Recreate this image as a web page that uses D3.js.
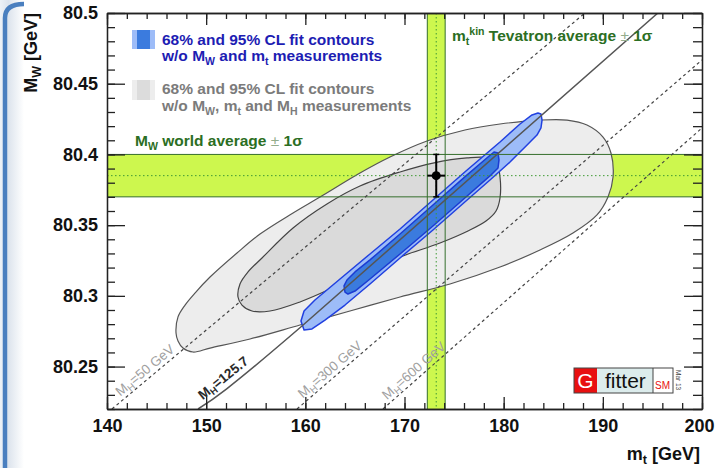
<!DOCTYPE html>
<html>
<head>
<meta charset="utf-8">
<script src="https://cdn.jsdelivr.net/npm/d3@7"></script>
<style>
  html, body { margin: 0; padding: 0; background: #fff; }
  svg { display: block; font-family: "Liberation Sans", Arial, Helvetica, sans-serif; }
</style>
</head>
<body>
<div id="chart"></div>
<script>
(function() {
  'use strict';

  /* ------------------------------------------------------------ *\
      Data
  \* ------------------------------------------------------------ */

  var mtMajorTicks = [140, 150, 160, 170, 180, 190, 200];
  var mtMinorTicks = d3.range(140, 201, 2);
  var mwMajorTicks = [80.25, 80.3, 80.35, 80.4, 80.45, 80.5];
  var mwMinorTicks = d3.range(80.22, 80.5001, 0.01);

  // [central value, 1 sigma]
  var mwWorldAverage = [80.385, 0.015];
  var mtTevatronAverage = [173.2, 0.9];

  // SM lines of constant M_H: [mt, MW] points
  var higgsMasses = ['50 GeV', '125.7', '300 GeV', '600 GeV'];
  var higgsLinePoints = [
    [[140.50, 80.22], [188.20, 80.50]],
    [[149.18, 80.22], [159.66, 80.2787], [195.55, 80.50]],
    [[159.16, 80.22], [200.00, 80.4668]],
    [[167.83, 80.22], [200.00, 80.4187]]
  ];
  var higgsLabelMt = [141.6, 149.9, 160.0, 168.5];

  // fit contours w/o MW, mt and MH
  var gray95 = [
    [146.96, 80.2737], [147.16, 80.2851], [147.87, 80.2935], [148.87, 80.3020],
    [150.39, 80.3133], [153.11, 80.3303], [155.43, 80.3437], [158.76, 80.3586],
    [161.48, 80.3699], [165.51, 80.3869], [168.54, 80.3982], [172.27, 80.4095],
    [176.10, 80.4173], [179.63, 80.4215], [183.66, 80.4243], [186.39, 80.4243],
    [188.40, 80.4208], [190.02, 80.4123], [190.82, 80.4010], [191.03, 80.3840],
    [190.52, 80.3699], [189.41, 80.3572], [186.99, 80.3444], [183.66, 80.3324],
    [179.63, 80.3204], [174.59, 80.3084], [169.55, 80.2992], [164.50, 80.2893],
    [159.46, 80.2794], [154.42, 80.2695], [150.39, 80.2631], [148.67, 80.2603],
    [147.66, 80.2631], [147.16, 80.2681]
  ];
  var gray68 = [
    [153.21, 80.2992], [153.41, 80.3084], [154.22, 80.3169], [155.63, 80.3268],
    [158.76, 80.3480], [162.18, 80.3650], [165.51, 80.3777], [169.55, 80.3876],
    [172.87, 80.3939], [176.30, 80.3975], [178.42, 80.3975], [179.33, 80.3932],
    [179.63, 80.3840], [179.63, 80.3692], [179.23, 80.3600], [178.22, 80.3529],
    [176.40, 80.3459], [173.58, 80.3374], [169.55, 80.3275], [165.51, 80.3155],
    [162.49, 80.3048], [159.46, 80.2957], [156.44, 80.2893], [154.62, 80.2893],
    [153.61, 80.2935]
  ];

  // fit contours w/o MW and mt
  var blue95 = [
    [159.56, 80.2822], [159.87, 80.2893], [160.97, 80.2971], [163.50, 80.3119],
    [166.52, 80.3296], [169.55, 80.3473], [172.87, 80.3678], [176.20, 80.3883],
    [179.63, 80.4088], [181.65, 80.4215], [182.86, 80.4279], [183.46, 80.4293],
    [183.76, 80.4286], [183.87, 80.4243], [183.76, 80.4187], [183.36, 80.4137],
    [182.66, 80.4088], [180.64, 80.3946], [178.62, 80.3819], [176.20, 80.3671],
    [172.87, 80.3466], [169.55, 80.3268], [166.52, 80.3084], [164.00, 80.2935],
    [161.98, 80.2829], [160.67, 80.2766], [159.87, 80.2759]
  ];
  var blue68 = [
    [164.00, 80.3027], [163.90, 80.3070], [164.20, 80.3112], [165.01, 80.3169],
    [166.52, 80.3254], [169.55, 80.3437], [172.87, 80.3642], [176.20, 80.3848],
    [178.42, 80.3982], [179.03, 80.4017], [179.43, 80.4010], [179.53, 80.3961],
    [179.43, 80.3904], [178.62, 80.3848], [176.20, 80.3699], [172.87, 80.3494],
    [169.55, 80.3296], [166.52, 80.3119], [165.01, 80.3034], [164.30, 80.3013]
  ];

  /* ------------------------------------------------------------ *\
      Frame and scales
  \* ------------------------------------------------------------ */

  var width = 715;
  var height = 468;
  var frame = { left: 107, right: 702, top: 13, bottom: 409 };

  var bandFill = '#cdf74e';
  var bandLine = '#356f2c';
  var axisColour = '#222';

  var x = d3.scaleLinear().domain([140, 200]).range([frame.left, frame.right]);
  var y = d3.scaleLinear().domain([80.22, 80.5]).range([frame.bottom, frame.top]);

  var svg = d3.select('#chart')
    .append('svg')
    .attr('width', width)
    .attr('height', height);

  var defs = svg.append('defs');

  defs.append('clipPath')
    .attr('id', 'plot-clip')
    .append('rect')
    .attr('x', frame.left)
    .attr('y', frame.top)
    .attr('width', frame.right - frame.left)
    .attr('height', frame.bottom - frame.top);

  var edge = defs.append('linearGradient')
    .attr('id', 'slide-edge')
    .attr('x1', 0).attr('x2', 1).attr('y1', 0).attr('y2', 0);
  edge.append('stop').attr('offset', '0%').attr('stop-color', '#eef2f7');
  edge.append('stop').attr('offset', '35%').attr('stop-color', '#dde4ed');
  edge.append('stop').attr('offset', '100%').attr('stop-color', '#ffffff');

  /* ------------------------------------------------------------ *\
      Slide edge on the left (blue bracket)
  \* ------------------------------------------------------------ */

  svg.append('rect')
    .attr('x', 0).attr('y', 0)
    .attr('width', 24).attr('height', height)
    .attr('fill', 'url(#slide-edge)');

  svg.append('path')
    .attr('d', 'M 24 4 Q 5 4 5 18 L 5 ' + height)
    .attr('fill', 'none')
    .attr('stroke', '#4a7fbf')
    .attr('stroke-width', 4.5);

  var plot = svg.append('g').attr('clip-path', 'url(#plot-clip)');

  /* ------------------------------------------------------------ *\
      Average bands (fill first, contours go on top)
  \* ------------------------------------------------------------ */

  var mwLo = mwWorldAverage[0] - mwWorldAverage[1];
  var mwHi = mwWorldAverage[0] + mwWorldAverage[1];
  var mtLo = mtTevatronAverage[0] - mtTevatronAverage[1];
  var mtHi = mtTevatronAverage[0] + mtTevatronAverage[1];

  plot.append('rect')
    .attr('x', frame.left)
    .attr('y', y(mwHi))
    .attr('width', frame.right - frame.left)
    .attr('height', y(mwLo) - y(mwHi))
    .attr('fill', bandFill);

  plot.append('rect')
    .attr('x', x(mtLo))
    .attr('y', frame.top)
    .attr('width', x(mtHi) - x(mtLo))
    .attr('height', frame.bottom - frame.top)
    .attr('fill', bandFill);

  /* ------------------------------------------------------------ *\
      Fit contours
  \* ------------------------------------------------------------ */

  var smooth = d3.line()
    .x(function(d) { return x(d[0]); })
    .y(function(d) { return y(d[1]); })
    .curve(d3.curveCatmullRomClosed.alpha(0.5));

  var sharp = d3.line()
    .x(function(d) { return x(d[0]); })
    .y(function(d) { return y(d[1]); })
    .curve(d3.curveLinearClosed);

  plot.append('path')
    .attr('d', smooth(gray95))
    .attr('fill', '#ededed')
    .attr('stroke', '#555')
    .attr('stroke-width', 1.2);

  plot.append('path')
    .attr('d', smooth(gray68))
    .attr('fill', '#dadada')
    .attr('stroke', '#444')
    .attr('stroke-width', 1.2);

  plot.append('path')
    .attr('d', sharp(blue95))
    .attr('fill', '#9dbcf8')
    .attr('stroke', '#2140e0')
    .attr('stroke-width', 1.5)
    .attr('stroke-linejoin', 'round');

  plot.append('path')
    .attr('d', sharp(blue68))
    .attr('fill', '#3b7bde')
    .attr('stroke', '#1b3cd2')
    .attr('stroke-width', 1.5)
    .attr('stroke-linejoin', 'round');

  /* ------------------------------------------------------------ *\
      Band edges and central values
  \* ------------------------------------------------------------ */

  [mwLo, mwHi].forEach(function(v) {
    plot.append('line')
      .attr('x1', frame.left).attr('x2', frame.right)
      .attr('y1', y(v)).attr('y2', y(v))
      .attr('stroke', bandLine).attr('stroke-width', 1);
  });

  [mtLo, mtHi].forEach(function(v) {
    plot.append('line')
      .attr('x1', x(v)).attr('x2', x(v))
      .attr('y1', frame.top).attr('y2', frame.bottom)
      .attr('stroke', bandLine).attr('stroke-width', 1);
  });

  plot.append('line')
    .attr('x1', frame.left).attr('x2', frame.right)
    .attr('y1', y(mwWorldAverage[0])).attr('y2', y(mwWorldAverage[0]))
    .attr('stroke', '#3f9a35').attr('stroke-width', 1)
    .attr('stroke-dasharray', '1.5,2.5');

  plot.append('line')
    .attr('x1', x(mtTevatronAverage[0])).attr('x2', x(mtTevatronAverage[0]))
    .attr('y1', frame.top).attr('y2', frame.bottom)
    .attr('stroke', '#3f9a35').attr('stroke-width', 1)
    .attr('stroke-dasharray', '1.5,2.5');

  /* ------------------------------------------------------------ *\
      Lines of constant M_H
  \* ------------------------------------------------------------ */

  var higgsCurve = d3.line()
    .x(function(d) { return x(d[0]); })
    .y(function(d) { return y(d[1]); })
    .curve(d3.curveNatural);

  higgsLinePoints.forEach(function(pts, i) {
    var solid = higgsMasses[i] === '125.7';
    plot.append('path')
      .attr('d', higgsCurve(pts))
      .attr('fill', 'none')
      .attr('stroke', solid ? '#555' : '#444')
      .attr('stroke-width', solid ? 1.5 : 1.2)
      .attr('stroke-dasharray', solid ? null : '3,3');
  });

  higgsLinePoints.forEach(function(pts, i) {
    var solid = higgsMasses[i] === '125.7';
    var x1 = x(pts[0][0]), y1 = y(pts[0][1]);
    var x2 = x(pts[1][0]), y2 = y(pts[1][1]);
    var angle = Math.atan2(y2 - y1, x2 - x1);
    var t = (x(higgsLabelMt[i]) - x1) / (x2 - x1);
    var px = x1 + t * (x2 - x1) + Math.sin(angle) * 4;
    var py = y1 + t * (y2 - y1) - Math.cos(angle) * 4;

    var label = plot.append('text')
      .attr('transform', 'translate(' + px + ',' + py + ') rotate(' + (angle * 180 / Math.PI) + ')')
      .attr('font-size', 13.5)
      .attr('font-weight', solid ? 'bold' : 'normal')
      .attr('fill', solid ? '#2a2a2a' : '#a0a0a0');
    label.append('tspan').text('M');
    label.append('tspan').attr('font-size', 9.5).attr('dy', 3).text('H');
    label.append('tspan').attr('dy', -3).text('=' + higgsMasses[i]);
  });

  /* ------------------------------------------------------------ *\
      Measured point with error bars
  \* ------------------------------------------------------------ */

  var cx = x(mtTevatronAverage[0]);
  var cy = y(mwWorldAverage[0]);

  plot.append('line')
    .attr('x1', cx).attr('x2', cx)
    .attr('y1', y(mwHi)).attr('y2', y(mwLo))
    .attr('stroke', '#000').attr('stroke-width', 2);

  plot.append('line')
    .attr('x1', x(mtLo)).attr('x2', x(mtHi))
    .attr('y1', cy).attr('y2', cy)
    .attr('stroke', '#000').attr('stroke-width', 2);

  [mwLo, mwHi].forEach(function(v) {
    plot.append('line')
      .attr('x1', cx - 3).attr('x2', cx + 3)
      .attr('y1', y(v)).attr('y2', y(v))
      .attr('stroke', '#000').attr('stroke-width', 1.5);
  });

  plot.append('circle')
    .attr('cx', cx).attr('cy', cy).attr('r', 4.5)
    .attr('fill', '#000');

  /* ------------------------------------------------------------ *\
      Axes (ROOT style: ticks inward on all four sides)
  \* ------------------------------------------------------------ */

  function styleAxis(g) {
    g.selectAll('path, line').attr('stroke', axisColour).attr('stroke-width', 1.3);
    g.selectAll('text')
      .attr('fill', '#111')
      .attr('font-size', 18)
      .attr('font-weight', 'bold')
      .attr('font-family', '"Liberation Sans", Arial, Helvetica, sans-serif');
  }

  var fmt = function(d) { return String(+d.toFixed(2)); };

  svg.append('g')
    .attr('transform', 'translate(0,' + frame.bottom + ')')
    .call(d3.axisBottom(x).tickValues(mtMinorTicks).tickSize(-6).tickSizeOuter(0).tickFormat(''))
    .call(styleAxis);
  svg.append('g')
    .attr('transform', 'translate(0,' + frame.bottom + ')')
    .call(d3.axisBottom(x).tickValues(mtMajorTicks).tickSize(-12).tickSizeOuter(0).tickPadding(10).tickFormat(fmt))
    .call(styleAxis)
    .selectAll('text')
    .filter(function(d) { return d === 200; })
    .attr('dx', -3);

  svg.append('g')
    .attr('transform', 'translate(0,' + frame.top + ')')
    .call(d3.axisTop(x).tickValues(mtMinorTicks).tickSize(-6).tickSizeOuter(0).tickFormat(''))
    .call(styleAxis);
  svg.append('g')
    .attr('transform', 'translate(0,' + frame.top + ')')
    .call(d3.axisTop(x).tickValues(mtMajorTicks).tickSize(-12).tickSizeOuter(0).tickFormat(''))
    .call(styleAxis);

  svg.append('g')
    .attr('transform', 'translate(' + frame.left + ',0)')
    .call(d3.axisLeft(y).tickValues(mwMinorTicks).tickSize(-8).tickSizeOuter(0).tickFormat(''))
    .call(styleAxis);
  svg.append('g')
    .attr('transform', 'translate(' + frame.left + ',0)')
    .call(d3.axisLeft(y).tickValues(mwMajorTicks).tickSize(-18).tickSizeOuter(0).tickPadding(9).tickFormat(fmt))
    .call(styleAxis);

  svg.append('g')
    .attr('transform', 'translate(' + frame.right + ',0)')
    .call(d3.axisRight(y).tickValues(mwMinorTicks).tickSize(-9).tickSizeOuter(0).tickFormat(''))
    .call(styleAxis);
  svg.append('g')
    .attr('transform', 'translate(' + frame.right + ',0)')
    .call(d3.axisRight(y).tickValues(mwMajorTicks).tickSize(-18).tickSizeOuter(0).tickFormat(''))
    .call(styleAxis);

  /* ------------------------------------------------------------ *\
      Axis titles
  \* ------------------------------------------------------------ */

  var yTitle = svg.append('text')
    .attr('transform', 'rotate(-90)')
    .attr('x', -frame.top)
    .attr('y', 37)
    .attr('text-anchor', 'end')
    .attr('font-size', 18)
    .attr('font-weight', 'bold')
    .attr('fill', '#111');
  yTitle.append('tspan').text('M');
  yTitle.append('tspan').attr('font-size', 12.5).attr('dy', 4).text('W');
  yTitle.append('tspan').attr('dy', -4).text(' [GeV]');

  var xTitle = svg.append('text')
    .attr('x', 700)
    .attr('y', 460)
    .attr('text-anchor', 'end')
    .attr('font-size', 18)
    .attr('font-weight', 'bold')
    .attr('fill', '#111');
  xTitle.append('tspan').text('m');
  xTitle.append('tspan').attr('font-size', 12.5).attr('dy', 4).text('t');
  xTitle.append('tspan').attr('dy', -4).text(' [GeV]');

  /* ------------------------------------------------------------ *\
      Legend
  \* ------------------------------------------------------------ */

  function richText(px, py, parts, colour, size) {
    var t = svg.append('text')
      .attr('x', px).attr('y', py)
      .attr('font-size', size)
      .attr('font-weight', 'bold')
      .attr('fill', colour);
    var shift = 0;
    parts.forEach(function(p) {
      var s = t.append('tspan').text(p.t);
      var want = p.sub ? 4 : (p.sup ? -6 : 0);
      if (want !== shift) { s.attr('dy', want - shift); shift = want; }
      if (p.sub || p.sup) { s.attr('font-size', size * 0.68); }
      if (p.light) { s.attr('font-weight', 'normal').attr('fill', '#93ad8c'); }
    });
    return t;
  }

  svg.append('rect').attr('x', 132).attr('y', 30).attr('width', 23).attr('height', 19).attr('fill', '#9dbcf8');
  svg.append('rect').attr('x', 137).attr('y', 30).attr('width', 13).attr('height', 19).attr('fill', '#3b7bde');
  svg.append('rect').attr('x', 132).attr('y', 80).attr('width', 23).attr('height', 20).attr('fill', '#ededed');
  svg.append('rect').attr('x', 137).attr('y', 80).attr('width', 13).attr('height', 20).attr('fill', '#dcdcdc');

  var legendBlue = '#1d1db3';
  var legendGray = '#7b7b7b';
  var legendGreen = '#2b6e23';

  richText(162, 45, [{ t: '68% and 95% CL fit contours' }], legendBlue, 15.5);
  richText(162, 61, [
    { t: 'w/o M' }, { t: 'W', sub: true }, { t: ' and m' }, { t: 't', sub: true }, { t: ' measurements' }
  ], legendBlue, 15.5);
  richText(162, 94, [{ t: '68% and 95% CL fit contours' }], legendGray, 15.5);
  richText(162, 111, [
    { t: 'w/o M' }, { t: 'W', sub: true }, { t: ', m' }, { t: 't', sub: true },
    { t: ' and M' }, { t: 'H', sub: true }, { t: ' measurements' }
  ], legendGray, 15.5);

  richText(135, 146, [
    { t: 'M' }, { t: 'W', sub: true }, { t: ' world average ' }, { t: '±', light: true }, { t: ' 1σ' }
  ], legendGreen, 15.5);
  richText(452, 41, [
    { t: 'm' }, { t: 't', sub: true }, { t: 'kin', sup: true }, { t: ' Tevatron average ' },
    { t: '±', light: true }, { t: ' 1σ' }
  ], legendGreen, 15.5);

  /* ------------------------------------------------------------ *\
      Gfitter logo
  \* ------------------------------------------------------------ */

  var logo = svg.append('g').attr('transform', 'translate(574,368)');
  logo.append('rect').attr('width', 23).attr('height', 25).attr('fill', '#e81010');
  logo.append('rect').attr('x', 23).attr('width', 56).attr('height', 25).attr('fill', '#dcecec');
  logo.append('rect').attr('x', 79).attr('width', 20).attr('height', 25).attr('fill', '#fff');
  logo.append('rect').attr('width', 99).attr('height', 25)
    .attr('fill', 'none').attr('stroke', '#444').attr('stroke-width', 1);
  logo.append('line').attr('x1', 79).attr('x2', 79).attr('y1', 0).attr('y2', 25)
    .attr('stroke', '#444').attr('stroke-width', 1);
  logo.append('text').attr('x', 11.5).attr('y', 20).attr('text-anchor', 'middle')
    .attr('font-size', 21).attr('fill', '#fff').text('G');
  logo.append('text').attr('x', 31).attr('y', 20)
    .attr('font-size', 21).attr('fill', '#111').text('fitter');
  logo.append('text').attr('x', 81).attr('y', 21)
    .attr('font-size', 10).attr('fill', '#e81010').text('SM');
  logo.append('text')
    .attr('transform', 'translate(102,2) rotate(90)')
    .attr('font-size', 6.5).attr('fill', '#444').text('Mar 13');
})();
</script>
</body>
</html>
